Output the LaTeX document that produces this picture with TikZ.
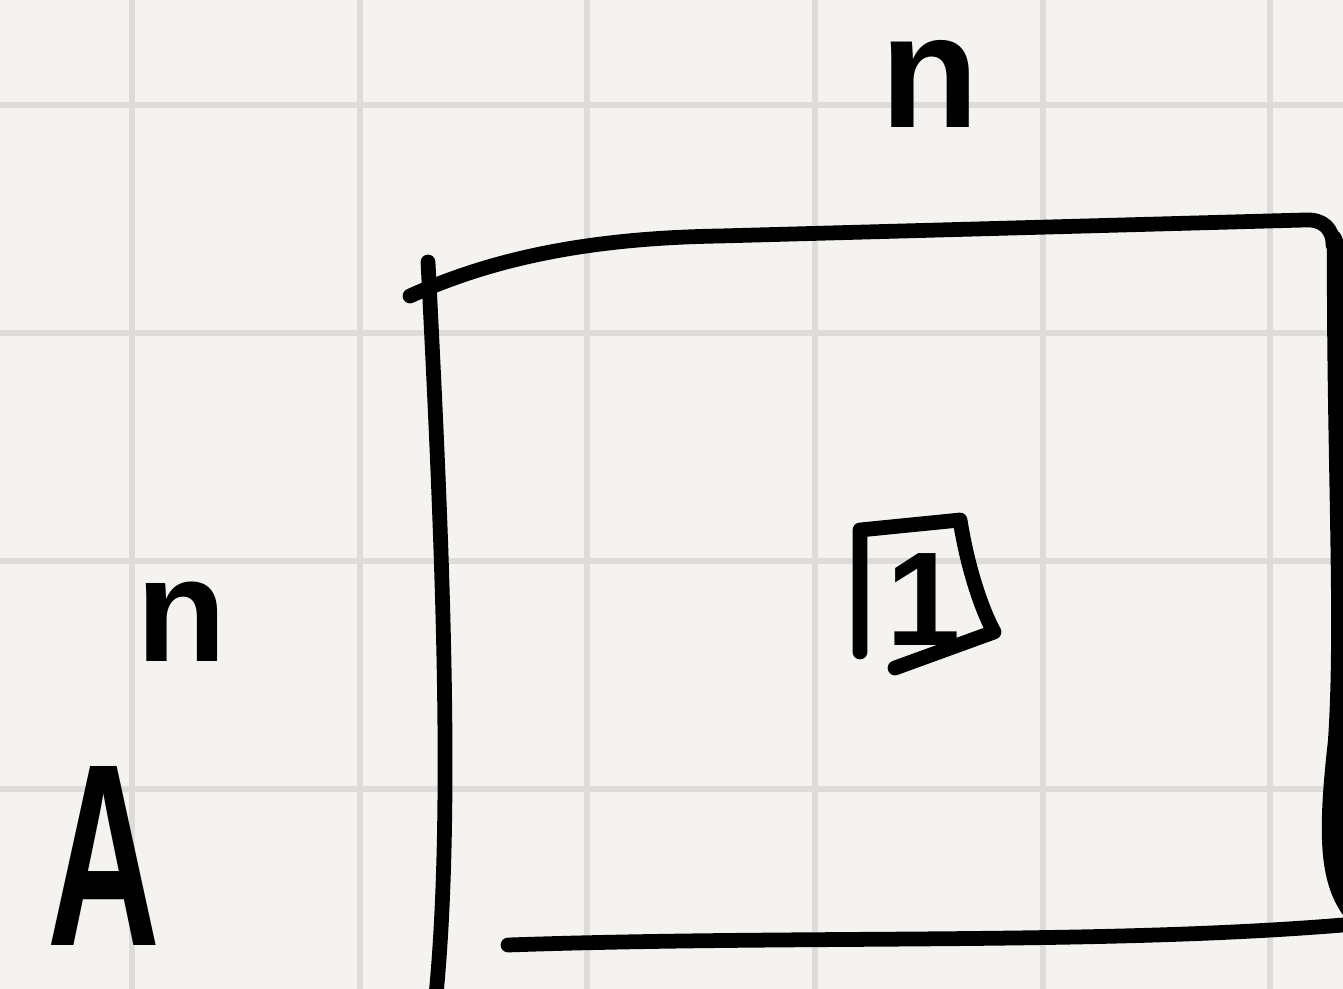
\documentclass[tikz,border=0pt]{standalone}
\usepackage{fontspec}
\setsansfont{Liberation Sans}
\usepackage{tikz}
\definecolor{paper}{HTML}{F4F3F0}
\definecolor{gridgray}{HTML}{DDDCDA}
\tikzset{
  pen/.style={line width=4.2pt, line cap=round, line join=round, black},
  hand/.style={font=\sffamily\bfseries, inner sep=0pt}
}
\begin{document}
\begin{tikzpicture}[x=0.01cm, y=-0.01cm]
%% --- paper and grid ---
\fill[paper] (0,0) rectangle (1343,989);
\useasboundingbox (0,0) rectangle (1343,989);
\foreach \x in {132,360,587,815,1043,1270}
  \draw[gridgray, line width=1.7pt] (\x,0) -- (\x,989);
\foreach \y in {105,333,561,789}
  \draw[gridgray, line width=1.7pt] (0,\y) -- (1343,\y);
%% --- the matrix ---
\draw[pen] (428,262) .. controls (440,500) and (455,800) .. (436,995);
\draw[pen] (410,296) .. controls (500,255) and (600,238) .. (720,236)
  -- (1305,220) .. controls (1322,219) and (1333,228) .. (1333,245);
\fill (1327,242) .. controls (1326,450) and (1336,620) .. (1328,740)
  .. controls (1318,830) and (1318,880) .. (1343,915)
  -- (1343,240) .. controls (1340,228) and (1330,225) .. cycle;
\draw[pen] (508,945) .. controls (800,935) and (1100,945) .. (1343,925);
%% --- labels ---
\node[hand, font=\sffamily\bfseries\fontsize{46}{46}\selectfont] (ntop) at (930,84) {n};
\node[hand, font=\sffamily\bfseries\fontsize{42}{42}\selectfont] (nleft) at (182,622) {n};
\node[hand, xscale=0.6, font=\sffamily\bfseries\fontsize{74}{74}\selectfont] (mA) at (104,856) {A};
\node[hand, font=\sffamily\bfseries\fontsize{38}{38}\selectfont] (one) at (924,600) {1};
\draw[pen] (860,652) -- (860,530) -- (960,520)
  .. controls (968,570) and (982,610) .. (994,632) -- (895,668);
\end{tikzpicture}
\end{document}
